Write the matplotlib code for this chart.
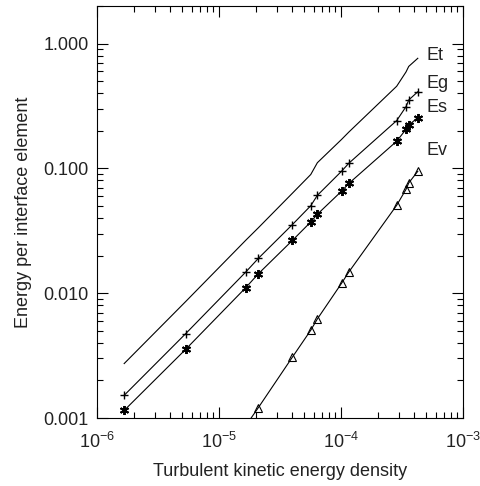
import numpy as np
import matplotlib
matplotlib.use("Agg")
import matplotlib.pyplot as plt
from matplotlib.ticker import LogLocator, FuncFormatter, NullFormatter

plt.rcParams['font.family'] = ['Liberation Sans', 'DejaVu Sans']
plt.rcParams['mathtext.fontset'] = 'custom'
plt.rcParams['mathtext.rm'] = 'Liberation Sans'
plt.rcParams['mathtext.it'] = 'Liberation Sans:italic'
plt.rcParams['mathtext.default'] = 'regular'

# turbulent kinetic energy density (shared by all series)
tke = [1.67e-6, 5.33e-6, 1.66e-5, 2.1e-5, 4.0e-5, 5.65e-5, 6.4e-5,
       1.01e-4, 1.16e-4, 2.86e-4, 3.41e-4, 3.59e-4, 4.26e-4]

e_t = [0.00273, 0.00857, 0.0266, 0.0334, 0.0633, 0.0893, 0.111,
       0.1705, 0.1955, 0.455, 0.592, 0.656, 0.762]
e_g = [0.00152, 0.00474, 0.0148, 0.0190, 0.0355, 0.0502, 0.0608,
       0.0948, 0.110, 0.2415, 0.312, 0.353, 0.411]
e_s = [0.00115, 0.00355, 0.0111, 0.0143, 0.0265, 0.0372, 0.0429,
       0.0656, 0.0758, 0.165, 0.2055, 0.222, 0.255]
# Ev: first point falls below the plotted range
tke_v = [1.66e-5, 2.1e-5, 4.0e-5, 5.65e-5, 6.4e-5, 1.01e-4, 1.16e-4,
         2.86e-4, 3.41e-4, 3.59e-4, 4.26e-4]
e_v = [0.00087, 0.00121, 0.00308, 0.00505, 0.00622, 0.0120, 0.0148,
       0.0506, 0.0679, 0.0764, 0.0948]

labels = ['Et', 'Eg', 'Es', 'Ev']
label_y = [0.80, 0.475, 0.305, 0.140]

txt = '#222222'

fig = plt.figure(figsize=(4.8, 4.86), dpi=100)
ax = fig.add_axes([0.2021, 0.1399, 0.7625, 0.8478])

lw = 0.8
ax.plot(tke, e_t, color='black', lw=lw)
ax.plot(tke, e_g, color='black', lw=lw, marker='+', ms=6, mew=1.0)
ax.plot(tke, e_s, color='black', lw=lw, marker=(6, 2, 0), ms=6.5, mew=1.4)
ax.plot(tke_v, e_v, color='black', lw=lw, marker='^', ms=6, mew=0.8,
        mfc='none')

for lab, yy in zip(labels, label_y):
    ax.text(5.0e-4, yy, lab, fontsize=13, va='center', ha='left', color=txt)

ax.set_xscale('log')
ax.set_yscale('log')
ax.set_xlim(1e-6, 1e-3)
ax.set_ylim(0.001, 2.0)

ax.xaxis.set_major_locator(LogLocator(base=10, numticks=10))
ax.xaxis.set_minor_locator(LogLocator(base=10, subs=np.arange(2, 10), numticks=20))
ax.xaxis.set_minor_formatter(NullFormatter())
ax.yaxis.set_major_locator(LogLocator(base=10, numticks=10))
ax.yaxis.set_minor_locator(LogLocator(base=10, subs=np.arange(2, 10), numticks=20))
ax.yaxis.set_minor_formatter(NullFormatter())
ax.yaxis.set_major_formatter(FuncFormatter(lambda v, p: '%.3f' % v))

ax.tick_params(which='both', direction='in', top=True, right=True,
               labelsize=13, width=0.8, labelcolor=txt)
ax.tick_params(axis='x', which='major', pad=10)
ax.tick_params(axis='y', which='major', pad=6)
ax.tick_params(which='major', length=8)
ax.tick_params(which='minor', length=4)
for sp in ax.spines.values():
    sp.set_linewidth(0.8)

ax.set_xlabel('Turbulent kinetic energy density', fontsize=13, labelpad=8,
              color=txt)
ax.set_ylabel('Energy per interface element', fontsize=13, labelpad=8,
              color=txt)

fig.savefig('out.png', dpi=100)
